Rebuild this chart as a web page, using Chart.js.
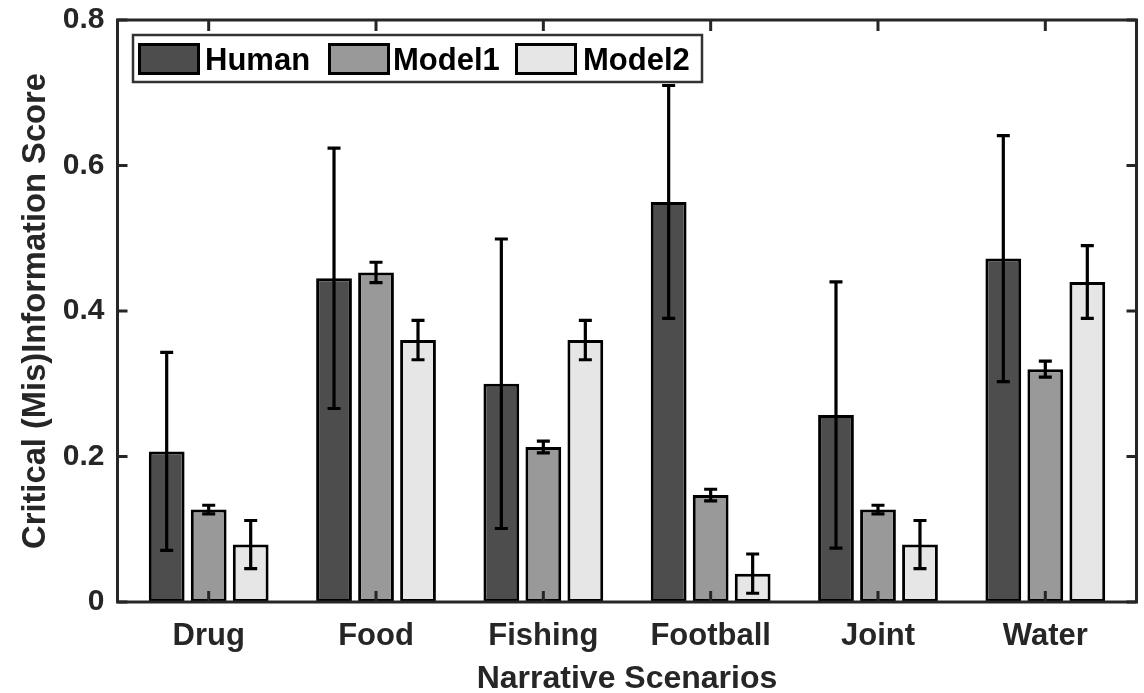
<!DOCTYPE html>
<html>
<head>
<meta charset="utf-8">
<script src="https://cdn.jsdelivr.net/npm/chart.js@4/dist/chart.umd.min.js"></script>
<style>
html,body{margin:0;padding:0;background:#fff;}
#wrap{width:1144px;height:693px;}
</style>
</head>
<body>
<div id="wrap"><canvas id="c" width="1144" height="693"></canvas></div>
<script>
// ---- data ----
const categories = ['Drug', 'Food', 'Fishing', 'Football', 'Joint', 'Water'];
const seriesNames = ['Human', 'Model1', 'Model2'];
const humanMean  = [0.207, 0.445, 0.300, 0.550, 0.257, 0.472];
const humanErr   = [0.136, 0.179, 0.199, 0.160, 0.183, 0.169];
const model1Mean = [0.127, 0.453, 0.213, 0.147, 0.127, 0.320];
const model1Err  = [0.006, 0.014, 0.008, 0.008, 0.006, 0.011];
const model2Mean = [0.079, 0.360, 0.360, 0.039, 0.079, 0.440];
const model2Err  = [0.033, 0.027, 0.027, 0.027, 0.033, 0.050];
const yTickValues = [0, 0.2, 0.4, 0.6, 0.8];
const xTitle = 'Narrative Scenarios';
const yTitle = 'Critical (Mis)Information Score';

const FONT = '"Liberation Sans", Arial, Helvetica, sans-serif';
const AX = '#262626';
const xPos = categories.map((_, i) => i + 1);
const fills = ['#4d4d4d', '#999999', '#e6e6e6'];
const means = [humanMean, model1Mean, model2Mean];
const errs = [humanErr, model1Err, model2Err];

const datasets = seriesNames.map((name, k) => ({
  label: name,
  data: xPos.map((x, i) => ({ x: x, y: means[k][i] })),
  err: errs[k],
  backgroundColor: fills[k],
  borderColor: '#000',
  borderWidth: 3,
  borderSkipped: false,
  categoryPercentage: 0.753,
  barPercentage: 0.852
}));

const errorBarPlugin = {
  id: 'errbars',
  afterDatasetsDraw(chart) {
    const ctx = chart.ctx, y = chart.scales.y;
    ctx.save();
    ctx.strokeStyle = '#000';
    ctx.lineWidth = 3.2;
    chart.data.datasets.forEach((ds, di) => {
      const meta = chart.getDatasetMeta(di);
      meta.data.forEach((bar, i) => {
        const v = ds.data[i].y, e = ds.err[i];
        const yt = y.getPixelForValue(v + e), yb = y.getPixelForValue(v - e);
        const x = bar.x, cw = 6.5;
        ctx.beginPath();
        ctx.moveTo(x, yt); ctx.lineTo(x, yb);
        ctx.moveTo(x - cw, yt); ctx.lineTo(x + cw, yt);
        ctx.moveTo(x - cw, yb); ctx.lineTo(x + cw, yb);
        ctx.stroke();
      });
    });
    ctx.restore();
  }
};

const framePlugin = {
  id: 'frame',
  afterDatasetsDraw(chart) {
    const ctx = chart.ctx, a = chart.chartArea, xs = chart.scales.x, ys = chart.scales.y;
    ctx.save();
    ctx.strokeStyle = AX;
    ctx.lineWidth = 3;
    ctx.beginPath();
    yTickValues.forEach(v => {
      const p = ys.getPixelForValue(v);
      ctx.moveTo(a.left, p); ctx.lineTo(a.left + 10, p);
      ctx.moveTo(a.right, p); ctx.lineTo(a.right - 10, p);
    });
    xPos.forEach(v => {
      const p = xs.getPixelForValue(v);
      ctx.moveTo(p, a.bottom); ctx.lineTo(p, a.bottom - 11);
      ctx.moveTo(p, a.top); ctx.lineTo(p, a.top + 11);
    });
    ctx.stroke();
    ctx.strokeRect(a.left, a.top, a.right - a.left, a.bottom - a.top);
    ctx.restore();
  }
};

const legendPlugin = {
  id: 'customLegend',
  afterDraw(chart) {
    const ctx = chart.ctx;
    ctx.save();
    ctx.fillStyle = '#fff';
    ctx.strokeStyle = '#333';
    ctx.lineWidth = 2.5;
    ctx.fillRect(133, 35, 569, 47);
    ctx.strokeRect(133, 35, 569, 47);
    const swX = [138, 328, 515], txX = [205, 393, 583];
    chart.data.datasets.forEach((ds, i) => {
      ctx.fillStyle = ds.backgroundColor;
      ctx.fillRect(swX[i], 43, 62, 32);
      ctx.strokeStyle = '#000';
      ctx.lineWidth = 3;
      ctx.strokeRect(swX[i] + 1.5, 44.5, 59, 29);
      ctx.fillStyle = '#000';
      ctx.font = 'bold 31px ' + FONT;
      ctx.textBaseline = 'middle';
      ctx.textAlign = 'left';
      ctx.fillText(ds.label, txX[i], 61);
    });
    ctx.restore();
  }
};

new Chart(document.getElementById('c'), {
  type: 'bar',
  data: { datasets: datasets },
  options: {
    responsive: false,
    animation: false,
    devicePixelRatio: 1,
    layout: { padding: { top: 20, right: 7.5, left: 0, bottom: 0 } },
    plugins: { legend: { display: false }, tooltip: { enabled: false } },
    scales: {
      x: {
        type: 'linear',
        min: 0.455,
        max: 6.545,
        offset: false,
        afterBuildTicks(s) { s.ticks = xPos.map(v => ({ value: v })); },
        afterFit(s) { s.height = 91; s.paddingLeft = 0; s.paddingRight = 0; },
        grid: { display: false, drawTicks: false },
        border: { display: false },
        ticks: {
          autoSkip: false,
          maxRotation: 0,
          padding: 15.5,
          color: AX,
          font: { family: FONT, size: 31, weight: 'bold' },
          callback: (v) => categories[Math.round(v) - 1] || ''
        },
        title: {
          display: true,
          text: xTitle,
          color: AX,
          padding: 0,
          font: { family: FONT, size: 32, weight: 'bold', lineHeight: 0.88 }
        }
      },
      y: {
        min: 0,
        max: 0.8,
        afterBuildTicks(s) { s.ticks = yTickValues.map(v => ({ value: v })); },
        afterFit(s) { s.width = 117.5; s.paddingTop = 0; s.paddingBottom = 0; },
        grid: { display: false, drawTicks: false },
        border: { display: false },
        ticks: {
          padding: 13,
          color: AX,
          font: { family: FONT, size: 30, weight: 'bold' },
          callback: (v) => (v === 0 ? '0' : v.toFixed(1))
        },
        title: {
          display: true,
          text: yTitle,
          color: AX,
          padding: { top: 16.4, bottom: 0 },
          font: { family: FONT, size: 32.7, weight: 'bold', lineHeight: 1.2 }
        }
      }
    }
  },
  plugins: [errorBarPlugin, framePlugin, legendPlugin]
});
</script>
</body>
</html>
